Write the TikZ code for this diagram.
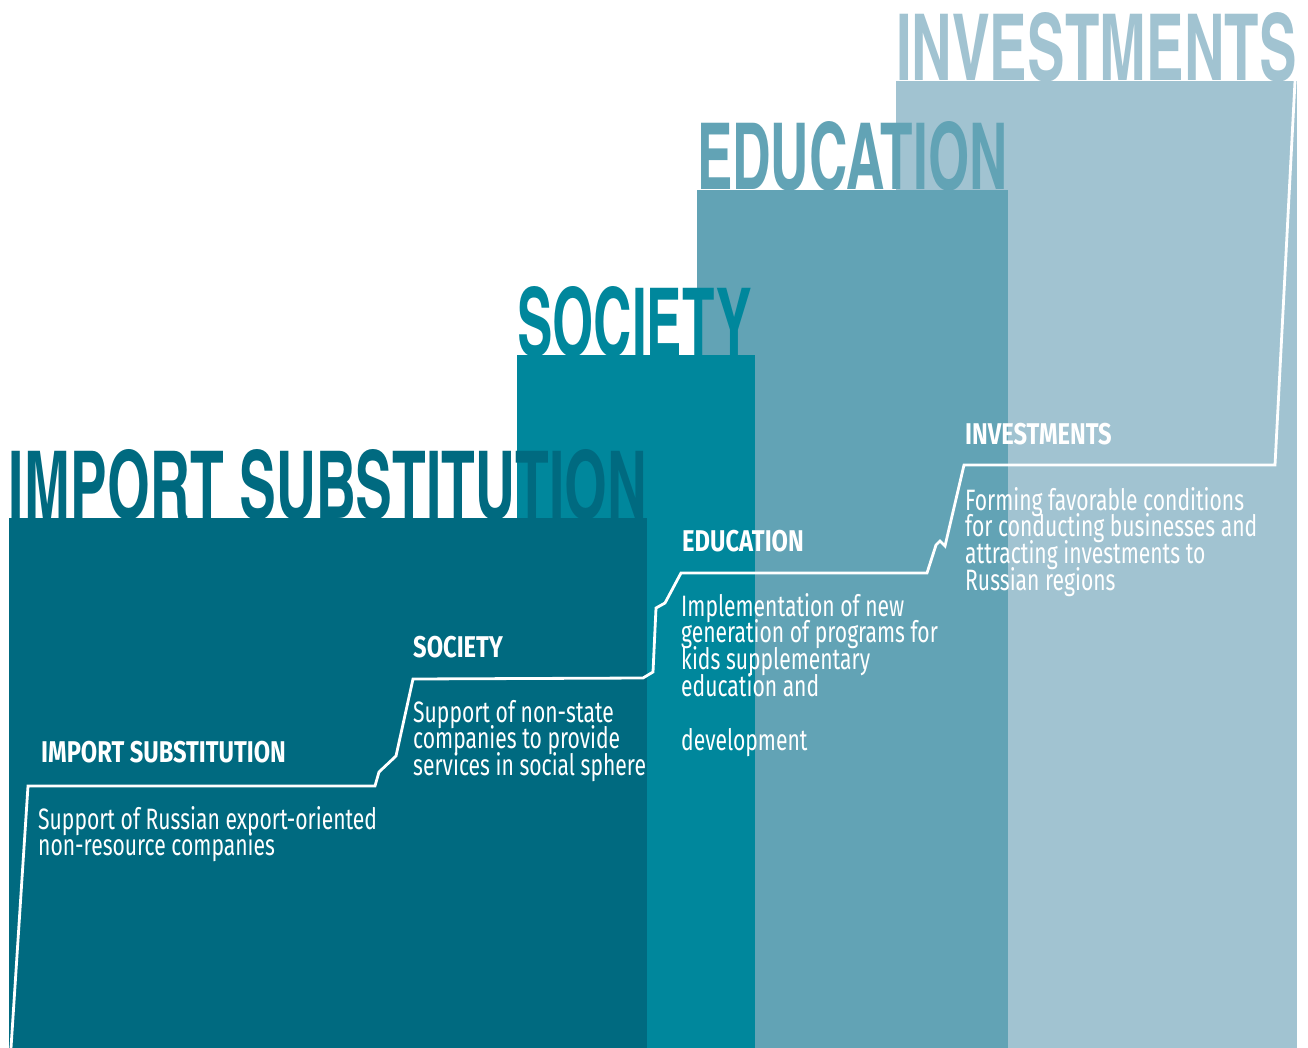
\documentclass[tikz,border=0pt]{standalone}
\usepackage{fontspec}
\usepackage{graphicx}
\setmainfont{Fira Sans}[FakeStretch=0.715]
\newfontfamily\headfont{Fira Sans}[FakeStretch=0.79]
\newfontfamily\titlefont{texgyreheroscn-bold.otf}
\definecolor{cimp}{RGB}{0,106,128}
\definecolor{csoc}{RGB}{0,135,156}
\definecolor{cedu}{RGB}{98,163,181}
\definecolor{cinv}{RGB}{161,195,209}
\newcommand\bigtitle[3]{\resizebox{#1pt}{#2pt}{\titlefont #3}}
\newcommand\linestack[1]{\vtop{\lineskiplimit=-100pt\baselineskip=26.8pt #1}}
\begin{document}
\begin{tikzpicture}[x=1pt,y=-1pt,
  titlenode/.style={anchor=base west,inner sep=0pt,outer sep=0pt},
  headnode/.style={anchor=base west,inner sep=0pt,text=white,font=\headfont\fontsize{30}{27}\selectfont\bfseries},
  bodynode/.style={anchor=base west,inner sep=0pt,text=white,font=\fontsize{29.5}{26.8}\selectfont},
  stepline/.style={draw=white,line width=2.8pt,line join=miter}]
\useasboundingbox (0,0) rectangle (1308,1048);
\fill[white] (0,0) rectangle (1308,1048);
% columns (back to front)
\fill[cinv] (896,81) rectangle (1297,1048);
\fill[cedu] (697,190) rectangle (1008,1048);
\fill[csoc] (517,355) rectangle (755,1048);
\fill[cimp] (9,518) rectangle (647,1048);
% big titles
\node[titlenode,text=cimp] (timp) at (9,518) {\bigtitle{638}{69}{IMPORT SUBSTITUTION}};
\node[titlenode,text=csoc] (tsoc) at (517,355) {\bigtitle{235}{69}{SOCIETY}};
\node[titlenode,text=cedu] (tedu) at (697,190) {\bigtitle{311}{68}{EDUCATION}};
\node[titlenode,text=cinv] (tinv) at (896,81) {\bigtitle{401}{68}{INVESTMENTS}};
% stair line
\draw[stepline] (11,1048) -- (28,786) -- (375,786) -- (379,772) -- (396,756) -- (413,679)
  -- (643,678) -- (653,672) -- (656,608) -- (665,603) -- (681,573) -- (927,573)
  -- (936,545) -- (940,541) -- (945,546) -- (964,465) -- (1275,465) -- (1295,81);
% headers
\node[headnode] (himp) at (41,762) {IMPORT SUBSTITUTION};
\node[headnode] (hsoc) at (413,657) {SOCIETY};
\node[headnode] (hedu) at (682,551) {EDUCATION};
\node[headnode] (hinv) at (965,444) {INVESTMENTS};
% body texts
\node[bodynode] (bimp) at (38,829) {\linestack{\hbox{Support of Russian export-oriented}\hbox{non-resource companies}}};
\node[bodynode] (bsoc) at (413,722) {\linestack{\hbox{Support of non-state}\hbox{companies to provide}\hbox{services in social sphere}}};
\node[bodynode] (bedu) at (681,616) {\linestack{\hbox{Implementation of new}\hbox{generation of programs for}\hbox{kids supplementary}\hbox{education and}\hbox{}\hbox{development}}};
\node[bodynode] (binv) at (965,510) {\linestack{\hbox{Forming favorable conditions}\hbox{for conducting businesses and}\hbox{attracting investments to}\hbox{Russian regions}}};
\end{tikzpicture}
\end{document}
